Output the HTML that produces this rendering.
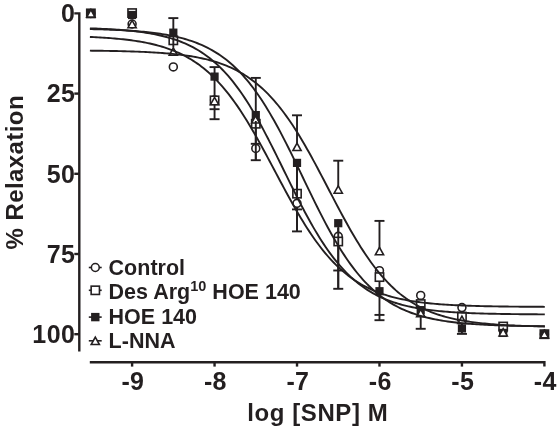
<!DOCTYPE html><html><head><meta charset="utf-8"><style>html,body{margin:0;padding:0;background:#fff;overflow:hidden}svg{display:block;will-change:transform;filter:blur(0.35px)}text{font-family:"Liberation Sans",sans-serif;font-weight:bold;fill:#231f20}</style></head><body>
<svg width="559" height="430" viewBox="0 0 559 430">
<path d="M74.3,13.4 H79.3 V351.5" fill="none" stroke="#231f20" stroke-width="2.4"/>
<line x1="74.3" y1="93.60" x2="79.3" y2="93.60" stroke="#231f20" stroke-width="2.4"/>
<line x1="74.3" y1="173.80" x2="79.3" y2="173.80" stroke="#231f20" stroke-width="2.4"/>
<line x1="74.3" y1="254.00" x2="79.3" y2="254.00" stroke="#231f20" stroke-width="2.4"/>
<line x1="74.3" y1="334.20" x2="79.3" y2="334.20" stroke="#231f20" stroke-width="2.4"/>
<path d="M89.8,362.2 H544.40 V366.6" fill="none" stroke="#231f20" stroke-width="2.4"/>
<line x1="132.10" y1="362.2" x2="132.10" y2="366.6" stroke="#231f20" stroke-width="2.4"/>
<line x1="214.56" y1="362.2" x2="214.56" y2="366.6" stroke="#231f20" stroke-width="2.4"/>
<line x1="297.02" y1="362.2" x2="297.02" y2="366.6" stroke="#231f20" stroke-width="2.4"/>
<line x1="379.48" y1="362.2" x2="379.48" y2="366.6" stroke="#231f20" stroke-width="2.4"/>
<line x1="461.94" y1="362.2" x2="461.94" y2="366.6" stroke="#231f20" stroke-width="2.4"/>
<text x="75.5" y="22.20" font-size="25" letter-spacing="0.5" text-anchor="end">0</text>
<text x="75.5" y="102.40" font-size="25" letter-spacing="0.5" text-anchor="end">25</text>
<text x="75.5" y="182.60" font-size="25" letter-spacing="0.5" text-anchor="end">50</text>
<text x="75.5" y="262.80" font-size="25" letter-spacing="0.5" text-anchor="end">75</text>
<text x="75.5" y="343.00" font-size="25" letter-spacing="0.5" text-anchor="end">100</text>
<text x="132.90" y="389.9" font-size="25" letter-spacing="0.3" text-anchor="middle">-9</text>
<text x="215.36" y="389.9" font-size="25" letter-spacing="0.3" text-anchor="middle">-8</text>
<text x="297.82" y="389.9" font-size="25" letter-spacing="0.3" text-anchor="middle">-7</text>
<text x="380.28" y="389.9" font-size="25" letter-spacing="0.3" text-anchor="middle">-6</text>
<text x="462.74" y="389.9" font-size="25" letter-spacing="0.3" text-anchor="middle">-5</text>
<text x="545.20" y="389.9" font-size="25" letter-spacing="0.3" text-anchor="middle">-4</text>
<text x="317.8" y="420.8" font-size="24" letter-spacing="0.6" text-anchor="middle">log [SNP] M</text>
<text transform="translate(22.5,172.2) rotate(-90)" x="0" y="0" font-size="24" letter-spacing="0.42" text-anchor="middle">% Relaxation</text>
<line x1="173.33" y1="18.1" x2="173.33" y2="30" stroke="#231f20" stroke-width="1.9"/>
<line x1="214.56" y1="67.1" x2="214.56" y2="119.2" stroke="#231f20" stroke-width="1.9"/>
<line x1="255.79" y1="77.9" x2="255.79" y2="160.2" stroke="#231f20" stroke-width="1.9"/>
<line x1="297.02" y1="115.3" x2="297.02" y2="145" stroke="#231f20" stroke-width="1.9"/>
<line x1="297.02" y1="160" x2="297.02" y2="231.4" stroke="#231f20" stroke-width="1.9"/>
<line x1="338.25" y1="160.7" x2="338.25" y2="188" stroke="#231f20" stroke-width="1.9"/>
<line x1="338.25" y1="222" x2="338.25" y2="288.8" stroke="#231f20" stroke-width="1.9"/>
<line x1="379.48" y1="220.9" x2="379.48" y2="250" stroke="#231f20" stroke-width="1.9"/>
<line x1="379.48" y1="275" x2="379.48" y2="320.2" stroke="#231f20" stroke-width="1.9"/>
<line x1="420.71" y1="300" x2="420.71" y2="328.8" stroke="#231f20" stroke-width="1.9"/>
<line x1="461.94" y1="320" x2="461.94" y2="333.9" stroke="#231f20" stroke-width="1.9"/>
<line x1="168.33" y1="18.1" x2="178.33" y2="18.1" stroke="#231f20" stroke-width="1.9"/>
<line x1="209.56" y1="67.1" x2="219.56" y2="67.1" stroke="#231f20" stroke-width="1.9"/>
<line x1="209.56" y1="109.2" x2="219.56" y2="109.2" stroke="#231f20" stroke-width="1.9"/>
<line x1="209.56" y1="119.2" x2="219.56" y2="119.2" stroke="#231f20" stroke-width="1.9"/>
<line x1="250.79" y1="77.9" x2="260.79" y2="77.9" stroke="#231f20" stroke-width="1.9"/>
<line x1="250.79" y1="143.8" x2="260.79" y2="143.8" stroke="#231f20" stroke-width="1.9"/>
<line x1="250.79" y1="160.2" x2="260.79" y2="160.2" stroke="#231f20" stroke-width="1.9"/>
<line x1="292.02" y1="115.3" x2="302.02" y2="115.3" stroke="#231f20" stroke-width="1.9"/>
<line x1="292.02" y1="209.4" x2="302.02" y2="209.4" stroke="#231f20" stroke-width="1.9"/>
<line x1="292.02" y1="231.4" x2="302.02" y2="231.4" stroke="#231f20" stroke-width="1.9"/>
<line x1="333.25" y1="160.7" x2="343.25" y2="160.7" stroke="#231f20" stroke-width="1.9"/>
<line x1="333.25" y1="270.5" x2="343.25" y2="270.5" stroke="#231f20" stroke-width="1.9"/>
<line x1="333.25" y1="288.8" x2="343.25" y2="288.8" stroke="#231f20" stroke-width="1.9"/>
<line x1="374.48" y1="220.9" x2="384.48" y2="220.9" stroke="#231f20" stroke-width="1.9"/>
<line x1="374.48" y1="314.9" x2="384.48" y2="314.9" stroke="#231f20" stroke-width="1.9"/>
<line x1="374.48" y1="320.2" x2="384.48" y2="320.2" stroke="#231f20" stroke-width="1.9"/>
<line x1="415.71" y1="328.8" x2="425.71" y2="328.8" stroke="#231f20" stroke-width="1.9"/>
<line x1="456.94" y1="333.9" x2="466.94" y2="333.9" stroke="#231f20" stroke-width="1.9"/>
<circle cx="90.87" cy="13.40" r="3.95" fill="#fff" stroke="#231f20" stroke-width="1.6"/>
<circle cx="132.10" cy="23.99" r="3.95" fill="#fff" stroke="#231f20" stroke-width="1.6"/>
<circle cx="173.33" cy="66.97" r="3.95" fill="#fff" stroke="#231f20" stroke-width="1.6"/>
<circle cx="214.56" cy="100.02" r="3.95" fill="#fff" stroke="#231f20" stroke-width="1.6"/>
<circle cx="255.79" cy="148.46" r="3.95" fill="#fff" stroke="#231f20" stroke-width="1.6"/>
<circle cx="297.02" cy="203.31" r="3.95" fill="#fff" stroke="#231f20" stroke-width="1.6"/>
<circle cx="338.25" cy="236.36" r="3.95" fill="#fff" stroke="#231f20" stroke-width="1.6"/>
<circle cx="379.48" cy="270.68" r="3.95" fill="#fff" stroke="#231f20" stroke-width="1.6"/>
<circle cx="420.71" cy="295.38" r="3.95" fill="#fff" stroke="#231f20" stroke-width="1.6"/>
<circle cx="461.94" cy="307.57" r="3.95" fill="#fff" stroke="#231f20" stroke-width="1.6"/>
<circle cx="503.17" cy="330.35" r="3.95" fill="#fff" stroke="#231f20" stroke-width="1.6"/>
<circle cx="544.40" cy="334.20" r="3.95" fill="#fff" stroke="#231f20" stroke-width="1.6"/>
<rect x="86.72" y="9.25" width="8.3" height="8.3" fill="#fff" stroke="#231f20" stroke-width="1.6"/>
<rect x="127.95" y="8.93" width="8.3" height="8.3" fill="#fff" stroke="#231f20" stroke-width="1.6"/>
<rect x="169.18" y="36.20" width="8.3" height="8.3" fill="#fff" stroke="#231f20" stroke-width="1.6"/>
<rect x="210.41" y="96.19" width="8.3" height="8.3" fill="#fff" stroke="#231f20" stroke-width="1.6"/>
<rect x="251.64" y="119.61" width="8.3" height="8.3" fill="#fff" stroke="#231f20" stroke-width="1.6"/>
<rect x="292.87" y="189.54" width="8.3" height="8.3" fill="#fff" stroke="#231f20" stroke-width="1.6"/>
<rect x="334.10" y="237.34" width="8.3" height="8.3" fill="#fff" stroke="#231f20" stroke-width="1.6"/>
<rect x="375.33" y="272.95" width="8.3" height="8.3" fill="#fff" stroke="#231f20" stroke-width="1.6"/>
<rect x="416.56" y="299.89" width="8.3" height="8.3" fill="#fff" stroke="#231f20" stroke-width="1.6"/>
<rect x="457.79" y="312.41" width="8.3" height="8.3" fill="#fff" stroke="#231f20" stroke-width="1.6"/>
<rect x="499.02" y="322.35" width="8.3" height="8.3" fill="#fff" stroke="#231f20" stroke-width="1.6"/>
<rect x="540.25" y="330.05" width="8.3" height="8.3" fill="#fff" stroke="#231f20" stroke-width="1.6"/>
<rect x="86.77" y="9.30" width="8.2" height="8.2" fill="#231f20"/>
<rect x="128.00" y="10.90" width="8.2" height="8.2" fill="#231f20"/>
<rect x="169.23" y="28.55" width="8.2" height="8.2" fill="#231f20"/>
<rect x="210.46" y="72.50" width="8.2" height="8.2" fill="#231f20"/>
<rect x="251.69" y="110.99" width="8.2" height="8.2" fill="#231f20"/>
<rect x="292.92" y="158.79" width="8.2" height="8.2" fill="#231f20"/>
<rect x="334.15" y="219.10" width="8.2" height="8.2" fill="#231f20"/>
<rect x="375.38" y="287.11" width="8.2" height="8.2" fill="#231f20"/>
<rect x="416.61" y="306.04" width="8.2" height="8.2" fill="#231f20"/>
<rect x="457.84" y="324.33" width="8.2" height="8.2" fill="#231f20"/>
<rect x="499.07" y="328.82" width="8.2" height="8.2" fill="#231f20"/>
<rect x="540.30" y="330.10" width="8.2" height="8.2" fill="#231f20"/>
<path d="M90.87,9.70 L94.97,17.10 L86.77,17.10 Z" fill="#fff" stroke="#231f20" stroke-width="1.6" stroke-linejoin="miter"/>
<path d="M132.10,20.29 L136.20,27.69 L128.00,27.69 Z" fill="#fff" stroke="#231f20" stroke-width="1.6" stroke-linejoin="miter"/>
<path d="M173.33,47.88 L177.43,55.28 L169.23,55.28 Z" fill="#fff" stroke="#231f20" stroke-width="1.6" stroke-linejoin="miter"/>
<path d="M214.56,97.28 L218.66,104.68 L210.46,104.68 Z" fill="#fff" stroke="#231f20" stroke-width="1.6" stroke-linejoin="miter"/>
<path d="M255.79,115.56 L259.89,122.96 L251.69,122.96 Z" fill="#fff" stroke="#231f20" stroke-width="1.6" stroke-linejoin="miter"/>
<path d="M297.02,143.15 L301.12,150.55 L292.92,150.55 Z" fill="#fff" stroke="#231f20" stroke-width="1.6" stroke-linejoin="miter"/>
<path d="M338.25,185.82 L342.35,193.22 L334.15,193.22 Z" fill="#fff" stroke="#231f20" stroke-width="1.6" stroke-linejoin="miter"/>
<path d="M379.48,247.41 L383.58,254.81 L375.38,254.81 Z" fill="#fff" stroke="#231f20" stroke-width="1.6" stroke-linejoin="miter"/>
<path d="M420.71,309.33 L424.81,316.73 L416.61,316.73 Z" fill="#fff" stroke="#231f20" stroke-width="1.6" stroke-linejoin="miter"/>
<path d="M461.94,316.06 L466.04,323.46 L457.84,323.46 Z" fill="#fff" stroke="#231f20" stroke-width="1.6" stroke-linejoin="miter"/>
<path d="M503.17,328.58 L507.27,335.98 L499.07,335.98 Z" fill="#fff" stroke="#231f20" stroke-width="1.6" stroke-linejoin="miter"/>
<path d="M544.40,330.50 L548.50,337.90 L540.30,337.90 Z" fill="#fff" stroke="#231f20" stroke-width="1.6" stroke-linejoin="miter"/>
<line x1="173.33" y1="33" x2="173.33" y2="47.5" stroke="#231f20" stroke-width="1.9"/>
<line x1="255.79" y1="121" x2="255.79" y2="160.2" stroke="#231f20" stroke-width="1.9"/>
<line x1="297.02" y1="166" x2="297.02" y2="198.5" stroke="#231f20" stroke-width="1.9"/>
<line x1="297.02" y1="207.3" x2="297.02" y2="231.4" stroke="#231f20" stroke-width="1.9"/>
<line x1="338.25" y1="228" x2="338.25" y2="288.8" stroke="#231f20" stroke-width="1.9"/>
<path d="M89.91,36.96 L91.97,37.05 L94.04,37.15 L96.11,37.25 L98.18,37.36 L100.24,37.48 L102.31,37.60 L104.38,37.73 L106.45,37.87 L108.52,38.02 L110.58,38.17 L112.65,38.33 L114.72,38.51 L116.79,38.69 L118.85,38.88 L120.92,39.09 L122.99,39.30 L125.06,39.53 L127.12,39.77 L129.19,40.03 L131.26,40.30 L133.33,40.58 L135.40,40.89 L137.46,41.21 L139.53,41.54 L141.60,41.90 L143.67,42.27 L145.73,42.67 L147.80,43.09 L149.87,43.53 L151.94,44.00 L154.01,44.49 L156.07,45.01 L158.14,45.56 L160.21,46.14 L162.28,46.75 L164.34,47.39 L166.41,48.07 L168.48,48.78 L170.55,49.53 L172.62,50.32 L174.68,51.16 L176.75,52.03 L178.82,52.95 L180.89,53.92 L182.95,54.94 L185.02,56.01 L187.09,57.13 L189.16,58.31 L191.23,59.54 L193.29,60.84 L195.36,62.20 L197.43,63.62 L199.50,65.10 L201.56,66.66 L203.63,68.28 L205.70,69.98 L207.77,71.75 L209.84,73.60 L211.90,75.53 L213.97,77.53 L216.04,79.62 L218.11,81.79 L220.17,84.04 L222.24,86.38 L224.31,88.80 L226.38,91.31 L228.45,93.90 L230.51,96.58 L232.58,99.35 L234.65,102.20 L236.72,105.14 L238.78,108.16 L240.85,111.26 L242.92,114.44 L244.99,117.69 L247.05,121.03 L249.12,124.43 L251.19,127.90 L253.26,131.44 L255.33,135.03 L257.39,138.68 L259.46,142.38 L261.53,146.13 L263.60,149.92 L265.66,153.74 L267.73,157.59 L269.80,161.46 L271.87,165.35 L273.94,169.24 L276.00,173.14 L278.07,177.04 L280.14,180.93 L282.21,184.80 L284.27,188.65 L286.34,192.47 L288.41,196.25 L290.48,200.00 L292.55,203.70 L294.61,207.35 L296.68,210.95 L298.75,214.48 L300.82,217.95 L302.88,221.35 L304.95,224.69 L307.02,227.94 L309.09,231.12 L311.16,234.22 L313.22,237.24 L315.29,240.18 L317.36,243.03 L319.43,245.79 L321.49,248.47 L323.56,251.07 L325.63,253.57 L327.70,256.00 L329.77,258.33 L331.83,260.58 L333.90,262.75 L335.97,264.84 L338.04,266.84 L340.10,268.77 L342.17,270.61 L344.24,272.39 L346.31,274.08 L348.38,275.71 L350.44,277.26 L352.51,278.75 L354.58,280.17 L356.65,281.53 L358.71,282.82 L360.78,284.06 L362.85,285.23 L364.92,286.35 L366.98,287.42 L369.05,288.44 L371.12,289.41 L373.19,290.33 L375.26,291.20 L377.32,292.04 L379.39,292.83 L381.46,293.58 L383.53,294.29 L385.59,294.97 L387.66,295.61 L389.73,296.22 L391.80,296.80 L393.87,297.35 L395.93,297.87 L398.00,298.36 L400.07,298.83 L402.14,299.27 L404.20,299.69 L406.27,300.08 L408.34,300.46 L410.41,300.82 L412.48,301.15 L414.54,301.47 L416.61,301.77 L418.68,302.06 L420.75,302.33 L422.81,302.58 L424.88,302.83 L426.95,303.05 L429.02,303.27 L431.09,303.47 L433.15,303.67 L435.22,303.85 L437.29,304.02 L439.36,304.19 L441.42,304.34 L443.49,304.49 L445.56,304.63 L447.63,304.76 L449.70,304.88 L451.76,305.00 L453.83,305.11 L455.90,305.21 L457.97,305.31 L460.03,305.40 L462.10,305.49 L464.17,305.57 L466.24,305.65 L468.31,305.72 L470.37,305.79 L472.44,305.86 L474.51,305.92 L476.58,305.98 L478.64,306.04 L480.71,306.09 L482.78,306.14 L484.85,306.19 L486.92,306.23 L488.98,306.27 L491.05,306.31 L493.12,306.35 L495.19,306.38 L497.25,306.42 L499.32,306.45 L501.39,306.48 L503.46,306.51 L505.52,306.53 L507.59,306.56 L509.66,306.58 L511.73,306.60 L513.80,306.62 L515.86,306.64 L517.93,306.66 L520.00,306.68 L522.07,306.70 L524.13,306.71 L526.20,306.73 L528.27,306.74 L530.34,306.76 L532.41,306.77 L534.47,306.78 L536.54,306.79 L538.61,306.80 L540.68,306.81 L542.74,306.82 L544.81,306.83" fill="none" stroke="#231f20" stroke-width="1.9"/>
<path d="M89.91,28.35 L91.97,28.42 L94.04,28.49 L96.11,28.57 L98.18,28.65 L100.24,28.74 L102.31,28.83 L104.38,28.93 L106.45,29.03 L108.52,29.14 L110.58,29.26 L112.65,29.38 L114.72,29.52 L116.79,29.66 L118.85,29.80 L120.92,29.96 L122.99,30.12 L125.06,30.30 L127.12,30.49 L129.19,30.68 L131.26,30.89 L133.33,31.11 L135.40,31.34 L137.46,31.59 L139.53,31.85 L141.60,32.13 L143.67,32.42 L145.73,32.73 L147.80,33.06 L149.87,33.41 L151.94,33.78 L154.01,34.16 L156.07,34.57 L158.14,35.01 L160.21,35.47 L162.28,35.95 L164.34,36.46 L166.41,37.01 L168.48,37.58 L170.55,38.18 L172.62,38.82 L174.68,39.49 L176.75,40.20 L178.82,40.95 L180.89,41.74 L182.95,42.57 L185.02,43.45 L187.09,44.38 L189.16,45.35 L191.23,46.38 L193.29,47.45 L195.36,48.59 L197.43,49.78 L199.50,51.03 L201.56,52.35 L203.63,53.73 L205.70,55.18 L207.77,56.70 L209.84,58.29 L211.90,59.95 L213.97,61.70 L216.04,63.52 L218.11,65.42 L220.17,67.41 L222.24,69.49 L224.31,71.65 L226.38,73.90 L228.45,76.24 L230.51,78.68 L232.58,81.21 L234.65,83.83 L236.72,86.55 L238.78,89.36 L240.85,92.27 L242.92,95.27 L244.99,98.37 L247.05,101.56 L249.12,104.84 L251.19,108.21 L253.26,111.67 L255.33,115.22 L257.39,118.84 L259.46,122.55 L261.53,126.32 L263.60,130.17 L265.66,134.08 L267.73,138.05 L269.80,142.08 L271.87,146.15 L273.94,150.26 L276.00,154.41 L278.07,158.58 L280.14,162.78 L282.21,166.99 L284.27,171.21 L286.34,175.42 L288.41,179.63 L290.48,183.83 L292.55,188.00 L294.61,192.14 L296.68,196.25 L298.75,200.31 L300.82,204.33 L302.88,208.29 L304.95,212.19 L307.02,216.03 L309.09,219.79 L311.16,223.48 L313.22,227.10 L315.29,230.63 L317.36,234.07 L319.43,237.43 L321.49,240.70 L323.56,243.87 L325.63,246.95 L327.70,249.94 L329.77,252.83 L331.83,255.63 L333.90,258.33 L335.97,260.94 L338.04,263.46 L340.10,265.87 L342.17,268.20 L344.24,270.44 L346.31,272.59 L348.38,274.65 L350.44,276.62 L352.51,278.51 L354.58,280.32 L356.65,282.05 L358.71,283.71 L360.78,285.29 L362.85,286.79 L364.92,288.23 L366.98,289.60 L369.05,290.91 L371.12,292.15 L373.19,293.33 L375.26,294.46 L377.32,295.53 L379.39,296.54 L381.46,297.51 L383.53,298.42 L385.59,299.29 L387.66,300.12 L389.73,300.90 L391.80,301.65 L393.87,302.35 L395.93,303.02 L398.00,303.65 L400.07,304.25 L402.14,304.81 L404.20,305.35 L406.27,305.86 L408.34,306.34 L410.41,306.79 L412.48,307.23 L414.54,307.63 L416.61,308.02 L418.68,308.38 L420.75,308.72 L422.81,309.05 L424.88,309.36 L426.95,309.65 L429.02,309.92 L431.09,310.18 L433.15,310.43 L435.22,310.66 L437.29,310.88 L439.36,311.08 L441.42,311.28 L443.49,311.46 L445.56,311.63 L447.63,311.80 L449.70,311.95 L451.76,312.10 L453.83,312.24 L455.90,312.37 L457.97,312.49 L460.03,312.61 L462.10,312.72 L464.17,312.82 L466.24,312.92 L468.31,313.01 L470.37,313.09 L472.44,313.18 L474.51,313.25 L476.58,313.33 L478.64,313.40 L480.71,313.46 L482.78,313.52 L484.85,313.58 L486.92,313.63 L488.98,313.68 L491.05,313.73 L493.12,313.78 L495.19,313.82 L497.25,313.86 L499.32,313.90 L501.39,313.94 L503.46,313.97 L505.52,314.00 L507.59,314.03 L509.66,314.06 L511.73,314.09 L513.80,314.11 L515.86,314.14 L517.93,314.16 L520.00,314.18 L522.07,314.20 L524.13,314.22 L526.20,314.24 L528.27,314.26 L530.34,314.27 L532.41,314.29 L534.47,314.30 L536.54,314.32 L538.61,314.33 L540.68,314.34 L542.74,314.35 L544.81,314.36" fill="none" stroke="#231f20" stroke-width="1.9"/>
<path d="M89.91,29.10 L91.97,29.14 L94.04,29.19 L96.11,29.24 L98.18,29.30 L100.24,29.36 L102.31,29.42 L104.38,29.48 L106.45,29.55 L108.52,29.62 L110.58,29.70 L112.65,29.78 L114.72,29.87 L116.79,29.96 L118.85,30.06 L120.92,30.16 L122.99,30.27 L125.06,30.39 L127.12,30.51 L129.19,30.64 L131.26,30.77 L133.33,30.92 L135.40,31.07 L137.46,31.23 L139.53,31.41 L141.60,31.59 L143.67,31.78 L145.73,31.98 L147.80,32.20 L149.87,32.42 L151.94,32.67 L154.01,32.92 L156.07,33.19 L158.14,33.47 L160.21,33.77 L162.28,34.09 L164.34,34.43 L166.41,34.78 L168.48,35.16 L170.55,35.56 L172.62,35.97 L174.68,36.42 L176.75,36.89 L178.82,37.38 L180.89,37.90 L182.95,38.45 L185.02,39.03 L187.09,39.64 L189.16,40.29 L191.23,40.97 L193.29,41.69 L195.36,42.45 L197.43,43.24 L199.50,44.08 L201.56,44.97 L203.63,45.90 L205.70,46.88 L207.77,47.91 L209.84,48.99 L211.90,50.13 L213.97,51.33 L216.04,52.58 L218.11,53.90 L220.17,55.29 L222.24,56.74 L224.31,58.26 L226.38,59.85 L228.45,61.51 L230.51,63.25 L232.58,65.07 L234.65,66.97 L236.72,68.96 L238.78,71.03 L240.85,73.18 L242.92,75.43 L244.99,77.77 L247.05,80.19 L249.12,82.71 L251.19,85.33 L253.26,88.04 L255.33,90.84 L257.39,93.74 L259.46,96.74 L261.53,99.83 L263.60,103.02 L265.66,106.30 L267.73,109.67 L269.80,113.13 L271.87,116.67 L273.94,120.30 L276.00,124.02 L278.07,127.81 L280.14,131.67 L282.21,135.60 L284.27,139.60 L286.34,143.66 L288.41,147.77 L290.48,151.92 L292.55,156.12 L294.61,160.35 L296.68,164.62 L298.75,168.90 L300.82,173.19 L302.88,177.50 L304.95,181.80 L307.02,186.10 L309.09,190.38 L311.16,194.64 L313.22,198.87 L315.29,203.07 L317.36,207.23 L319.43,211.34 L321.49,215.39 L323.56,219.39 L325.63,223.32 L327.70,227.18 L329.77,230.97 L331.83,234.68 L333.90,238.31 L335.97,241.86 L338.04,245.31 L340.10,248.68 L342.17,251.96 L344.24,255.14 L346.31,258.23 L348.38,261.23 L350.44,264.13 L352.51,266.93 L354.58,269.64 L356.65,272.25 L358.71,274.77 L360.78,277.20 L362.85,279.53 L364.92,281.77 L366.98,283.93 L369.05,286.00 L371.12,287.98 L373.19,289.88 L375.26,291.70 L377.32,293.44 L379.39,295.10 L381.46,296.69 L383.53,298.21 L385.59,299.66 L387.66,301.04 L389.73,302.36 L391.80,303.61 L393.87,304.81 L395.93,305.95 L398.00,307.03 L400.07,308.06 L402.14,309.04 L404.20,309.97 L406.27,310.85 L408.34,311.69 L410.41,312.49 L412.48,313.24 L414.54,313.96 L416.61,314.64 L418.68,315.29 L420.75,315.90 L422.81,316.48 L424.88,317.03 L426.95,317.55 L429.02,318.04 L431.09,318.51 L433.15,318.95 L435.22,319.37 L437.29,319.77 L439.36,320.14 L441.42,320.50 L443.49,320.83 L445.56,321.15 L447.63,321.45 L449.70,321.74 L451.76,322.01 L453.83,322.26 L455.90,322.50 L457.97,322.73 L460.03,322.94 L462.10,323.14 L464.17,323.34 L466.24,323.52 L468.31,323.69 L470.37,323.85 L472.44,324.00 L474.51,324.15 L476.58,324.29 L478.64,324.41 L480.71,324.54 L482.78,324.65 L484.85,324.76 L486.92,324.86 L488.98,324.96 L491.05,325.05 L493.12,325.14 L495.19,325.22 L497.25,325.30 L499.32,325.37 L501.39,325.44 L503.46,325.50 L505.52,325.57 L507.59,325.62 L509.66,325.68 L511.73,325.73 L513.80,325.78 L515.86,325.83 L517.93,325.87 L520.00,325.91 L522.07,325.95 L524.13,325.99 L526.20,326.02 L528.27,326.05 L530.34,326.08 L532.41,326.11 L534.47,326.14 L536.54,326.17 L538.61,326.19 L540.68,326.21 L542.74,326.24 L544.81,326.26" fill="none" stroke="#231f20" stroke-width="1.9"/>
<path d="M89.91,50.66 L91.97,50.68 L94.04,50.71 L96.11,50.73 L98.18,50.76 L100.24,50.78 L102.31,50.81 L104.38,50.84 L106.45,50.88 L108.52,50.91 L110.58,50.95 L112.65,50.98 L114.72,51.03 L116.79,51.07 L118.85,51.11 L120.92,51.16 L122.99,51.21 L125.06,51.27 L127.12,51.33 L129.19,51.39 L131.26,51.45 L133.33,51.52 L135.40,51.59 L137.46,51.67 L139.53,51.75 L141.60,51.83 L143.67,51.92 L145.73,52.02 L147.80,52.12 L149.87,52.23 L151.94,52.34 L154.01,52.46 L156.07,52.59 L158.14,52.73 L160.21,52.87 L162.28,53.02 L164.34,53.18 L166.41,53.35 L168.48,53.53 L170.55,53.71 L172.62,53.91 L174.68,54.12 L176.75,54.35 L178.82,54.58 L180.89,54.83 L182.95,55.10 L185.02,55.38 L187.09,55.67 L189.16,55.98 L191.23,56.31 L193.29,56.66 L195.36,57.02 L197.43,57.41 L199.50,57.82 L201.56,58.25 L203.63,58.71 L205.70,59.19 L207.77,59.70 L209.84,60.23 L211.90,60.80 L213.97,61.40 L216.04,62.02 L218.11,62.69 L220.17,63.38 L222.24,64.12 L224.31,64.89 L226.38,65.71 L228.45,66.57 L230.51,67.47 L232.58,68.42 L234.65,69.41 L236.72,70.46 L238.78,71.56 L240.85,72.72 L242.92,73.93 L244.99,75.20 L247.05,76.53 L249.12,77.93 L251.19,79.39 L253.26,80.92 L255.33,82.52 L257.39,84.19 L259.46,85.93 L261.53,87.75 L263.60,89.65 L265.66,91.63 L267.73,93.69 L269.80,95.83 L271.87,98.06 L273.94,100.37 L276.00,102.77 L278.07,105.25 L280.14,107.83 L282.21,110.49 L284.27,113.24 L286.34,116.07 L288.41,118.99 L290.48,122.00 L292.55,125.09 L294.61,128.27 L296.68,131.52 L298.75,134.86 L300.82,138.27 L302.88,141.75 L304.95,145.30 L307.02,148.91 L309.09,152.59 L311.16,156.32 L313.22,160.10 L315.29,163.92 L317.36,167.78 L319.43,171.68 L321.49,175.61 L323.56,179.56 L325.63,183.52 L327.70,187.49 L329.77,191.46 L331.83,195.43 L333.90,199.39 L335.97,203.33 L338.04,207.24 L340.10,211.13 L342.17,214.98 L344.24,218.79 L346.31,222.55 L348.38,226.26 L350.44,229.91 L352.51,233.50 L354.58,237.02 L356.65,240.47 L358.71,243.85 L360.78,247.16 L362.85,250.38 L364.92,253.53 L366.98,256.58 L369.05,259.56 L371.12,262.45 L373.19,265.25 L375.26,267.96 L377.32,270.59 L379.39,273.13 L381.46,275.58 L383.53,277.95 L385.59,280.22 L387.66,282.42 L389.73,284.53 L391.80,286.56 L393.87,288.50 L395.93,290.37 L398.00,292.16 L400.07,293.88 L402.14,295.52 L404.20,297.09 L406.27,298.60 L408.34,300.03 L410.41,301.40 L412.48,302.71 L414.54,303.96 L416.61,305.15 L418.68,306.28 L420.75,307.36 L422.81,308.39 L424.88,309.37 L426.95,310.30 L429.02,311.18 L431.09,312.02 L433.15,312.82 L435.22,313.58 L437.29,314.30 L439.36,314.98 L441.42,315.63 L443.49,316.25 L445.56,316.83 L447.63,317.39 L449.70,317.91 L451.76,318.41 L453.83,318.88 L455.90,319.33 L457.97,319.75 L460.03,320.15 L462.10,320.53 L464.17,320.89 L466.24,321.23 L468.31,321.55 L470.37,321.86 L472.44,322.14 L474.51,322.42 L476.58,322.67 L478.64,322.92 L480.71,323.15 L482.78,323.37 L484.85,323.57 L486.92,323.77 L488.98,323.95 L491.05,324.13 L493.12,324.29 L495.19,324.45 L497.25,324.60 L499.32,324.74 L501.39,324.87 L503.46,324.99 L505.52,325.11 L507.59,325.22 L509.66,325.33 L511.73,325.43 L513.80,325.52 L515.86,325.61 L517.93,325.69 L520.00,325.77 L522.07,325.85 L524.13,325.92 L526.20,325.98 L528.27,326.05 L530.34,326.11 L532.41,326.16 L534.47,326.21 L536.54,326.27 L538.61,326.31 L540.68,326.36 L542.74,326.40 L544.81,326.44" fill="none" stroke="#231f20" stroke-width="1.9"/>
<line x1="88.8" y1="267.5" x2="101.7" y2="267.5" stroke="#231f20" stroke-width="1.6"/>
<line x1="88.8" y1="290.3" x2="101.7" y2="290.3" stroke="#231f20" stroke-width="1.6"/>
<line x1="88.8" y1="317.1" x2="101.7" y2="317.1" stroke="#231f20" stroke-width="1.6"/>
<line x1="88.8" y1="340.8" x2="101.7" y2="340.8" stroke="#231f20" stroke-width="1.6"/>
<circle cx="95.30" cy="267.50" r="3.95" fill="#fff" stroke="#231f20" stroke-width="1.6"/>
<rect x="91.15" y="286.15" width="8.3" height="8.3" fill="#fff" stroke="#231f20" stroke-width="1.6"/>
<rect x="91.10" y="312.90" width="8.4" height="8.4" fill="#231f20"/>
<path d="M95.30,337.10 L99.40,344.50 L91.20,344.50 Z" fill="#fff" stroke="#231f20" stroke-width="1.6" stroke-linejoin="miter"/>
<text x="108.6" y="274.9" font-size="21.5" letter-spacing="0">Control</text>
<text x="108.6" y="299.2" font-size="21.5" letter-spacing="0">Des Arg<tspan dy="-7.9" font-size="14.5">10</tspan><tspan dy="7.9"> HOE 140</tspan></text>
<text x="108.6" y="324.2" font-size="21.5" letter-spacing="0">HOE 140</text>
<text x="108.6" y="348.0" font-size="21.5" letter-spacing="0">L-NNA</text>
</svg></body></html>
